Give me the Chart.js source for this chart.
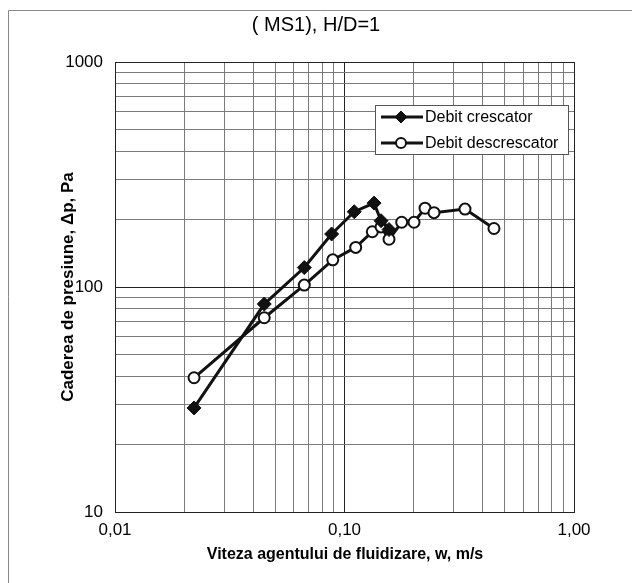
<!DOCTYPE html>
<html>
<head>
<meta charset="utf-8">
<script src="https://cdn.jsdelivr.net/npm/chart.js@4.4.1/dist/chart.umd.min.js"></script>
<style>
html,body{margin:0;padding:0;background:#fff}
#wrap{position:relative;width:632px;height:583px}
</style>
</head>
<body>
<div id="wrap"><canvas id="c" width="632" height="583"></canvas></div>
<script>
// date
var xCrescator = [0.0221, 0.0447, 0.0668, 0.0879, 0.1103, 0.1345, 0.1443, 0.1563];
var yCrescator = [29, 84, 122, 172, 216, 236, 197, 180];
var xDescrescator = [0.0221, 0.0447, 0.0668, 0.0889, 0.1119, 0.1322, 0.1443, 0.1563, 0.1775, 0.2009, 0.2243, 0.2455, 0.335, 0.448];
var yDescrescator = [39.5, 73, 102, 132, 150, 176, 185, 163, 194, 194, 224, 214, 222, 182];
var xMajor = [0.01, 0.1, 1];
var xMajorLabels = ['0,01', '0,10', '1,00'];
var yMajor = [10, 100, 1000];
var yMajorLabels = ['10', '100', '1000'];
var seriesNames = ['Debit crescator', 'Debit descrescator'];

var FONT = 'Arial, "Liberation Sans", sans-serif';

function pts(xs, ys) {
  return xs.map(function(x, i){ return {x: x, y: ys[i]}; });
}

// ticks 1..9 pe fiecare decada
function logTicks(majors) {
  var out = [];
  for (var i = 0; i < majors.length; i++) {
    if (i === majors.length - 1) { out.push({value: majors[i], major: true}); break; }
    for (var k = 1; k <= 9; k++) {
      out.push({value: Number((k * majors[i]).toPrecision(6)), major: k === 1});
    }
  }
  return out;
}

function majorLabel(v, majors, labels) {
  for (var i = 0; i < majors.length; i++) {
    if (Math.abs(v - majors[i]) / majors[i] < 1e-6) return labels[i];
  }
  return '';
}

function gridCol(ctx) {
  return ctx.tick && ctx.tick.major ? '#222' : '#7a7a7a';
}

var decor = {
  id: 'decor',
  afterDraw: function(chart) {
    var c = chart.ctx;
    c.save();
    // rama
    c.strokeStyle = '#888';
    c.lineWidth = 1;
    c.beginPath();
    c.moveTo(8.5, 583); c.lineTo(8.5, 10.5); c.lineTo(632, 10.5);
    c.stroke();
    c.fillStyle = '#000';
    c.textAlign = 'center';
    c.textBaseline = 'middle';
    c.font = '20px ' + FONT;
    c.fillText('( MS1), H/D=1', 316, 25);
    c.font = 'bold 16px ' + FONT;
    c.fillText('Viteza agentului de fluidizare, w, m/s', 345, 555);
    c.translate(68, 287);
    c.rotate(-Math.PI / 2);
    c.font = 'bold 17px ' + FONT;
    c.fillText('Caderea de presiune, \u0394p, Pa', 0, 0);
    c.restore();

    // legenda
    c.save();
    var bx = 375, by = 105, bw = 193, bh = 49;
    c.fillStyle = '#fff';
    c.fillRect(bx, by, bw, bh);
    c.strokeStyle = '#555';
    c.lineWidth = 1;
    c.strokeRect(bx + 0.5, by + 0.5, bw, bh);
    chart.data.datasets.forEach(function(ds, i) {
      var y = 117 + i * 26;
      c.strokeStyle = ds.borderColor;
      c.lineWidth = ds.borderWidth;
      c.beginPath(); c.moveTo(381, y); c.lineTo(423, y); c.stroke();
      c.fillStyle = ds.pointBackgroundColor;
      c.strokeStyle = ds.pointBorderColor;
      c.lineWidth = ds.pointBorderWidth;
      c.beginPath();
      if (ds.pointStyle === 'circle') { c.arc(401, y, ds.pointRadius - 0.5, 0, Math.PI * 2); }
      else { var r = ds.pointRadius - 1; c.moveTo(401, y - r); c.lineTo(401 + r, y); c.lineTo(401, y + r); c.lineTo(401 - r, y); c.closePath(); }
      c.fill(); c.stroke();
      c.fillStyle = '#000';
      c.font = '16px ' + FONT;
      c.textAlign = 'left';
      c.textBaseline = 'middle';
      c.fillText(ds.label, 425, y + 1);
    });
    c.restore();
  }
};

new Chart(document.getElementById('c'), {
  type: 'line',
  data: {
    datasets: [
      {
        label: seriesNames[0],
        data: pts(xCrescator, yCrescator),
        borderColor: '#111', borderWidth: 3,
        pointStyle: 'rectRot', pointRadius: 7,
        pointBackgroundColor: '#111', pointBorderColor: '#111', pointBorderWidth: 1
      },
      {
        label: seriesNames[1],
        data: pts(xDescrescator, yDescrescator),
        borderColor: '#111', borderWidth: 3,
        pointStyle: 'circle', pointRadius: 5.5,
        pointBackgroundColor: '#fff', pointBorderColor: '#111', pointBorderWidth: 2
      }
    ]
  },
  options: {
    responsive: false,
    animation: false,
    layout: {padding: {top: 62, right: 58, left: 0, bottom: 0}},
    plugins: {legend: {display: false}, tooltip: {enabled: false}, title: {display: false}},
    scales: {
      x: {
        type: 'logarithmic', min: 0.01, max: 1,
        afterBuildTicks: function(s){ s.ticks = logTicks(xMajor); },
        afterFit: function(s){ s.height = 71; },
        ticks: {
          autoSkip: false, maxRotation: 0, padding: 8, color: '#000',
          font: {family: FONT, size: 17},
          callback: function(v){ return majorLabel(v, xMajor, xMajorLabels); }
        },
        grid: {color: gridCol, lineWidth: 1, drawTicks: false},
        border: {color: '#222', width: 1}
      },
      y: {
        type: 'logarithmic', min: 10, max: 1000,
        afterBuildTicks: function(s){ s.ticks = logTicks(yMajor); },
        afterFit: function(s){ s.width = 115; },
        ticks: {
          autoSkip: false, padding: 12, color: '#000',
          font: {family: FONT, size: 17},
          callback: function(v){ return majorLabel(v, yMajor, yMajorLabels); }
        },
        grid: {color: gridCol, lineWidth: 1, drawTicks: false},
        border: {color: '#222', width: 1}
      }
    }
  },
  plugins: [decor]
});
</script>
</body>
</html>
